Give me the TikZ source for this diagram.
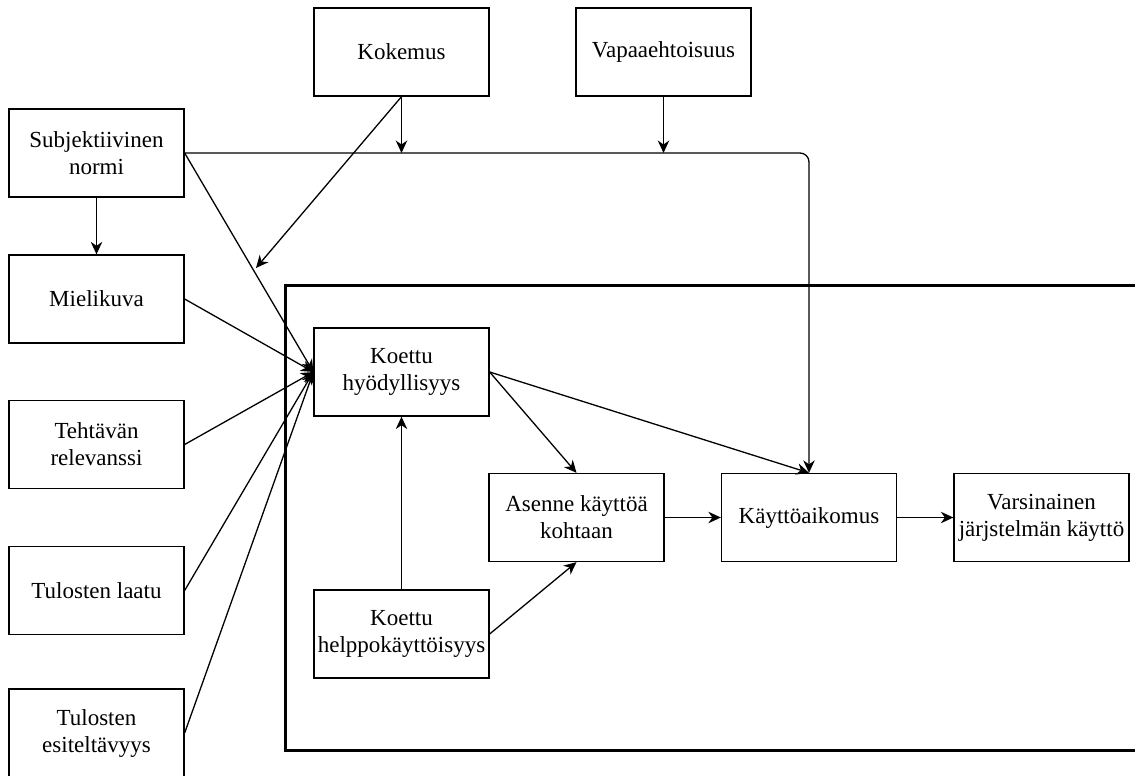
\documentclass[tikz,border=0pt]{standalone}
\usepackage{fontspec}
\setmainfont{Liberation Serif}
\usetikzlibrary{arrows.meta}
\begin{document}
\begin{tikzpicture}[x=1pt,y=-1pt,
  box/.style={draw, line width=1.3pt, fill=white, minimum width=175pt, minimum height=88pt, inner sep=0pt, align=center, font=\fontsize{23}{27}\selectfont},
  arr/.style={line width=1.3pt, -{Stealth[length=12.5pt,width=11.5pt,inset=4pt]}},
  frame/.style={line width=3pt}]
\useasboundingbox (0,0) rectangle (1135,776);
\draw[frame] (285,285) rectangle (1145,750);

\node[box] (kok) at (401.5,52) {Kokemus};
\node[box] (vap) at (663.5,52) {Vapaaehtoisuus};
\node[box] (subj) at (96.5,153) {Subjektiivinen\\normi};
\node[box] (miel) at (96.5,299) {Mielikuva};
\node[box] (teht) at (96.5,444.5) {Tehtävän\\relevanssi};
\node[box] (laatu) at (96.5,590.5) {Tulosten laatu};
\node[box] (esit) at (96.5,733) {Tulosten\\esiteltävyys};
\node[box] (hyod) at (401.5,372) {Koettu\\hyödyllisyys};
\node[box] (help) at (401.5,634) {Koettu\\helppokäyttöisyys};
\node[box] (asen) at (576.5,517.5) {Asenne käyttöä\\kohtaan};
\node[box] (kayt) at (809,517.5) {Käyttöaikomus};
\node[box] (vars) at (1041.5,517.5) {Varsinainen\\järjstelmän käyttö};

\coordinate (k1) at (401.5,153);
\coordinate (v1) at (663.5,153);
\coordinate (k2) at (256,268);

\draw[arr] (subj.south) -- (miel.north);
\draw[arr, rounded corners=9pt] (subj.east) -| (kayt.north);
\draw[arr] (kok.south) -- (k1);
\draw[arr] (vap.south) -- (v1);
\draw[arr] (kok.south) -- (k2);
\draw[arr] (subj.east) -- (hyod.west);
\draw[arr] (miel.east) -- (hyod.west);
\draw[arr] (teht.east) -- (hyod.west);
\draw[arr] (laatu.east) -- (hyod.west);
\draw[arr] (esit.east) -- (hyod.west);
\draw[arr] (help.north) -- (hyod.south);
\draw[arr] (hyod.east) -- (asen.north);
\draw[arr] (help.east) -- (asen.south);
\draw[arr] (hyod.east) -- (kayt.north);
\draw[arr] (asen.east) -- (kayt.west);
\draw[arr] (kayt.east) -- (vars.west);
\end{tikzpicture}
\end{document}
